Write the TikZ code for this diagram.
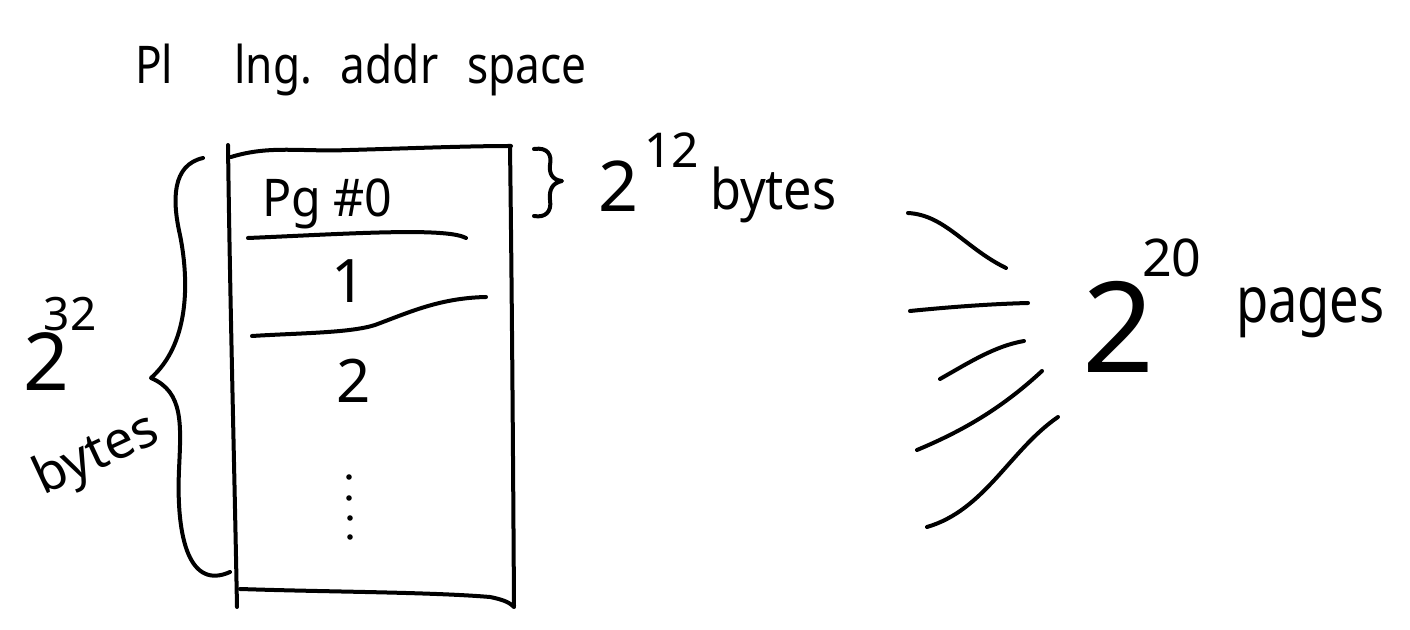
\documentclass[tikz,border=0pt]{standalone}
\usepackage{fontspec}
\setmainfont{Noto Sans}
\begin{document}
\begin{tikzpicture}[x=0.5pt,y=-0.5pt,
  ink/.style={draw=black, line width=2pt, line cap=round, line join=round},
  hand/.style={inner sep=0pt, outer sep=0pt, font=\fontsize{#1}{#1}\selectfont}]
\useasboundingbox[fill=white] (0,0) rectangle (1410,630);

% title
\node[hand=26, anchor=base west, xscale=0.85] (title) at (135,84)
  {Pl\hspace{36pt}lng.\hspace{17pt}addr\hspace{17pt}space};

% box
\draw[ink] (228,145) .. controls (230,300) and (234,450) .. (237,607);
\draw[ink] (231,157) .. controls (270,145) and (300,152) .. (350,150)
                     .. controls (420,148) and (470,146) .. (511,146);
\draw[ink] (510,146) .. controls (512,300) and (513,450) .. (514,606);
\draw[ink] (240,589) .. controls (330,592) and (430,592) .. (490,597)
                     .. controls (505,600) and (510,603) .. (514,607);
% separators
\draw[ink] (248,238) .. controls (320,235) and (400,230) .. (440,233)
                     .. controls (455,234) and (462,236) .. (466,238);
\draw[ink] (252,336) .. controls (300,333) and (350,333) .. (375,325)
                     .. controls (410,312) and (440,298) .. (486,297);

% page labels
\node[hand=26, anchor=base west, xscale=0.93] (pg0) at (262,217) {Pg \#0};
\node[hand=30, anchor=base] (pg1) at (349,303) {1};
\node[hand=30, anchor=base] (pg2) at (354,403) {2};
\foreach \yy/\xx in {477/349,498/349,518/350,537/350}
  \fill (\xx,\yy) circle (2.8);

% left brace
\draw[ink] (203,158) .. controls (172,165) and (172,200) .. (180,235)
           .. controls (190,285) and (188,345) .. (151,378)
           .. controls (184,392) and (181,425) .. (179,470)
           .. controls (176,540) and (190,590) .. (230,572);
\node[hand=40, anchor=base west] (p32) at (24,391)
  {2\hspace{-13pt}\raisebox{30pt}{\fontsize{23}{23}\selectfont 32}};
\node[hand=26, rotate=25] (b32) at (97,456) {bytes};

% small brace
\draw[ink] (534,149) .. controls (548,147) and (552,155) .. (550,165)
           .. controls (549,173) and (552,180) .. (562,181)
           .. controls (552,183) and (549,190) .. (550,200)
           .. controls (552,212) and (545,218) .. (534,216);
\node[hand=35, anchor=base west] (p12) at (598,212)
  {2\hspace{3pt}\raisebox{22pt}{\fontsize{24}{24}\selectfont 12}};
\node[hand=28, anchor=base west, xscale=0.9] (b12) at (710,210) {bytes};

% rays
\draw[ink] (908,213) .. controls (945,215) and (965,248) .. (1006,268);
\draw[ink] (910,311) .. controls (950,307) and (990,304) .. (1028,303);
\draw[ink] (940,379) .. controls (970,362) and (995,346) .. (1024,341);
\draw[ink] (917,450) .. controls (960,432) and (1000,410) .. (1042,371);
\draw[ink] (927,527) .. controls (985,510) and (1010,450) .. (1058,417);

\node[hand=63, anchor=base west] (p20) at (1082,373)
  {2\hspace{-6pt}\raisebox{48pt}{\fontsize{26}{26}\selectfont 20}};
\node[hand=32, anchor=base west, xscale=0.82] (pages) at (1236,323) {pages};
\end{tikzpicture}
\end{document}
